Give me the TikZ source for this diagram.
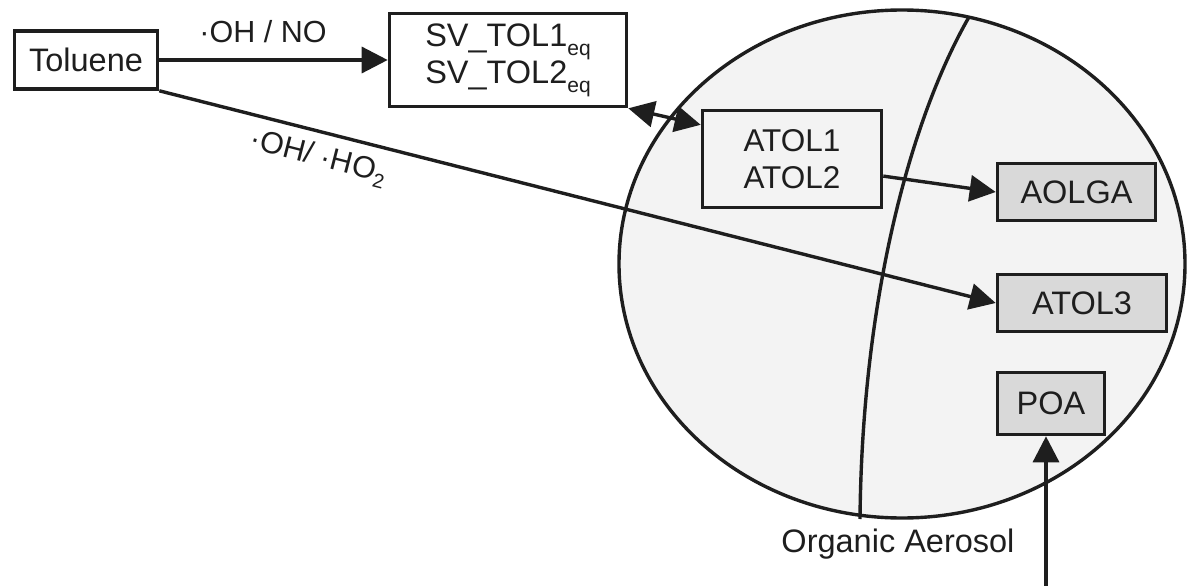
\documentclass[tikz,border=0pt]{standalone}
\usepackage{fontspec}
\setmainfont{Liberation Sans}
\usetikzlibrary{arrows.meta,calc}
\definecolor{ink}{HTML}{1E1E1E}
\definecolor{aerofill}{HTML}{F3F3F3}
\definecolor{boxgray}{HTML}{D9D9D9}
\newcommand\sbeq{\raisebox{-9pt}{\fontsize{21}{21}\selectfont eq}}
\newcommand\sbtwo{\raisebox{-7pt}{\fontsize{20}{20}\selectfont 2}}
\begin{document}
\begin{tikzpicture}[x=1pt,y=-1pt,
  box/.style={draw=ink,line width=3.6pt,fill=white,inner sep=0pt,text=ink,
    font=\fontsize{32.5}{36}\selectfont,align=center},
  gbox/.style={box,fill=boxgray},
  conn/.style={draw=ink,line width=3.4pt,-{Triangle[length=26pt,width=26pt]}},
  lbl/.style={font=\fontsize{30.5}{34}\selectfont,text=ink}]
\useasboundingbox (0,0) rectangle (1187,586);
% aerosol particle
\draw[draw=ink,line width=3.4pt,fill=aerofill] (902,264) ellipse [x radius=283, y radius=254];
\draw[draw=ink,line width=3.4pt] (969,17) .. controls (910,120) and (862,300) .. (860,519);
\node[lbl,font=\fontsize{32.5}{36}\selectfont,anchor=base] (oa) at (898,552) {Organic Aerosol};
% boxes
\node[box,minimum width=143pt,minimum height=58pt] (tol) at (86,60) {Toluene};
\node[box,minimum width=237pt,minimum height=93pt] (sv) at (508,60) {SV\_TOL1\sbeq\\SV\_TOL2\sbeq};
\node[box,fill=aerofill,minimum width=179pt,minimum height=97pt,font=\fontsize{31.5}{37}\selectfont] (atol) at (792,159) {ATOL1\\ATOL2};
\node[gbox,minimum width=158pt,minimum height=57pt] (aolga) at (1076.5,192) {AOLGA};
\node[gbox,minimum width=169pt,minimum height=57pt] (atol3) at (1082,303) {ATOL3};
\node[gbox,minimum width=107pt,minimum height=62pt] (poa) at (1051,403.5) {POA};
% connectors
\draw[conn] (tol.east) -- (tol.east -| sv.west);
\node[lbl,anchor=base] (l1) at (263,43) {·OH / NO};
\draw[conn] (tol.south east) -- (atol3.west);
\node[lbl,rotate=-14.4] (l2) at (318,158) {·OH/ ·HO\sbtwo};
\draw[draw=ink,line width=3.4pt,{Triangle[length=26pt,width=26pt]}-{Triangle[length=26pt,width=26pt]}]
  (sv.south east) -- ($(atol.north west)!0.16!(atol.south west)$);
\draw[conn] ($(atol.north east)!0.67!(atol.south east)$) -- (aolga.west);
\coordinate (src) at (1046,586);
\draw[conn] (src) -- (src |- poa.south);
\end{tikzpicture}
\end{document}
